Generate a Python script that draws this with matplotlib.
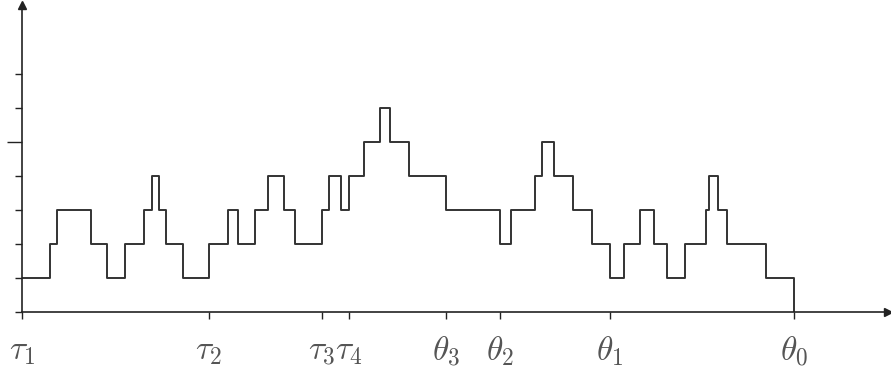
import matplotlib
matplotlib.use("Agg")
import matplotlib.pyplot as plt
import numpy as np

plt.rcParams['mathtext.fontset'] = 'cm'

# step function: x positions where the level changes, and the new level
jump_x = [0, 28, 35, 69, 85, 103, 122, 130, 137, 144, 161, 187, 206, 216, 233,
          246, 262, 273, 300, 307, 319, 327, 342, 358, 368, 387, 424, 478, 489,
          513, 520, 532, 551, 570, 588, 602, 618, 632, 645, 663, 684, 687, 696,
          705, 744, 772]
levels = [1, 2, 3, 2, 1, 2, 3, 4, 3, 2, 1, 2, 3, 2, 3,
          4, 3, 2, 3, 4, 3, 4, 5, 6, 5, 4, 3, 2, 3,
          4, 5, 4, 3, 2, 1, 2, 3, 2, 1, 2, 3, 4, 3,
          2, 1, 0]

tick_pos = [0, 187, 300, 327, 424, 478, 588, 772]
tick_labels = [r'$\tau_1$', r'$\tau_2$', r'$\tau_3$', r'$\tau_4$',
               r'$\theta_3$', r'$\theta_2$', r'$\theta_1$', r'$\theta_0$']

fig = plt.figure(figsize=(8.91, 3.70), dpi=100)
ax = fig.add_axes([22 / 891, 58 / 370, 866 / 891, 307 / 370])

ax.step(jump_x, levels, where='post', color='#333333', lw=1.4)

ax.set_xlim(0, 866)
ax.set_ylim(0, 307 / 34)

for s in ['top', 'right']:
    ax.spines[s].set_visible(False)
for s in ['left', 'bottom']:
    ax.spines[s].set_color('#222222')
    ax.spines[s].set_linewidth(1.2)

ax.set_xticks(tick_pos)
ax.set_xticklabels(tick_labels, fontsize=24, color='#555555')
ax.tick_params(axis='x', direction='out', length=5, width=1, pad=11, color='#222222')

ax.set_yticks([5])
ax.set_yticklabels([])
ax.set_yticks([0, 1, 2, 3, 4, 6, 7], minor=True)
ax.tick_params(axis='y', which='major', direction='out', length=11, width=1, color='#222222')
ax.tick_params(axis='y', which='minor', direction='out', length=5, width=1, color='#222222')

# arrow heads
ax.plot(1, 0, '>', color='#222222', ms=6, transform=ax.transAxes, clip_on=False)
ax.plot(0, 1, '^', color='#222222', ms=6, transform=ax.transAxes, clip_on=False)

fig.savefig('out.png', dpi=100)
